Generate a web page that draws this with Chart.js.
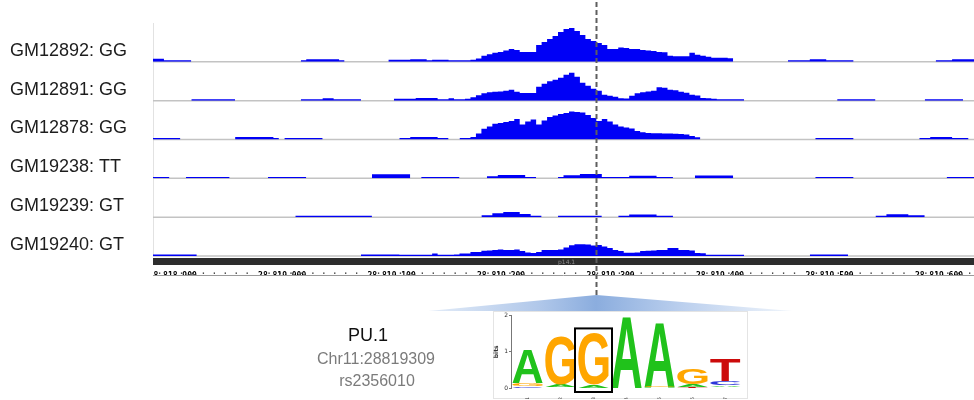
<!DOCTYPE html>
<html>
<head>
<meta charset="utf-8">
<script src="https://cdn.jsdelivr.net/npm/chart.js@4.4.1/dist/chart.umd.min.js"></script>
<style>
  html, body { margin: 0; padding: 0; background: #fff; }
  #wrap { position: relative; width: 974px; height: 400px; overflow: hidden; }
  #tracks { position: absolute; left: 0; top: 0; }
  #logo { position: absolute; left: 493px; top: 311px; }
  .motif { position: absolute; width: 200px; text-align: center; font-family: "Liberation Sans", Arial, sans-serif; white-space: nowrap; }
  #motifName { left: 268px; top: 325px; font-size: 18px; line-height: 20px; color: #111; }
  #motifLocus { left: 276px; top: 350px; font-size: 16px; line-height: 18px; color: #7b7b7b; }
  #motifSnp { left: 277px; top: 372px; font-size: 16px; line-height: 18px; color: #7b7b7b; }
</style>
</head>
<body>
<div id="wrap">
  <canvas id="tracks" width="974" height="400"></canvas>
  <canvas id="logo" width="255" height="88"></canvas>
  <div class="motif" id="motifName"></div>
  <div class="motif" id="motifLocus"></div>
  <div class="motif" id="motifSnp"></div>
</div>
<script>
// ---- ChIP-seq coverage around the PU.1 site ----
const sampleNames = ['GM12892', 'GM12891', 'GM12878', 'GM19238', 'GM19239', 'GM19240'];
const genotypes   = ['GG', 'GG', 'GG', 'TT', 'GT', 'GT'];
const regionStart = 28818904;
const regionEnd   = 28819654;
const binSize     = 5;          // bp per coverage bin
const snpPosition = 28819309;
const chromosome  = 'Chr11';
const snpId       = 'rs2356010';
const motifName   = 'PU.1';
const cytoband    = 'p14.1';

const _ = null;                 // no reads in bin
const coverageGM12892 = [
  3,3,1.5,1.5,1.5,1.5,1.5,_,_,_,
  _,_,_,_,_,_,_,_,_,_,
  _,_,_,_,_,_,_,1.5,2.5,2.5,
  2.5,2.5,2.5,2.5,1.5,_,_,_,_,_,
  _,_,_,2,2,2,2,2.5,2.5,2.5,
  1.5,2,2,2,1.5,1.5,1.5,1.5,2,3.3,
  6,7.5,9,10,11.5,13,12,10,10,10,
  17,20,23,26,30,33,34,31,27,23,
  21,19,17,13,13,14.5,14,13,13,12,
  11.5,11,10,9.5,6,5.5,5.5,5.5,9,7,
  6,5,4,4,4,3.7,_,_,_,_,
  _,_,_,_,_,_,1.5,1.5,1.5,1.5,
  2.5,2.5,2.5,1.5,1.5,1.5,1.5,1.5,_,_,
  _,_,_,_,_,_,_,_,_,_,
  _,_,_,1.5,1.5,1.5,2.5,2.5,2.5,2.5
];
const coverageGM12891 = [
  _,_,_,_,_,_,_,1.5,1.5,1.5,
  1.5,1.5,1.5,1.5,1.5,_,_,_,_,_,
  _,_,_,_,_,_,_,1.5,1.5,1.5,
  1.5,2.5,2.5,1.5,1.5,1.5,1.5,1.5,_,_,
  _,_,_,_,2,2,2,2,2.7,2.7,
  2.7,2.7,1.5,1.5,2.5,1.5,1.5,2,3.5,5.5,
  7.5,8.5,9,9.3,10,11,9,7.7,7.7,7.7,
  14,17,19.5,21,23,26,28,24,18,15,
  12,10,6,5,4,2.4,2.3,5,7.5,8.5,
  9.3,10,13.5,13,11,10.5,9,8,6,5.3,
  2.7,2.5,2,1.3,1.3,1.3,1.3,1.3,_,_,
  _,_,_,_,_,_,_,_,_,_,
  _,_,_,_,_,1.5,1.5,1.5,1.5,1.5,
  1.5,1.5,_,_,_,_,_,_,_,_,
  _,1.5,1.5,1.5,1.5,1.5,1.5,1.5,_,_
];
const coverageGM12878 = [
  1.5,1.5,1.5,1.5,1.5,_,_,_,_,_,
  _,_,_,_,_,2.5,2.5,2.5,2.5,2.5,
  2.5,2.5,1.5,_,1.5,1.5,1.5,1.5,1.5,1.5,
  1.5,_,_,_,_,_,_,_,_,_,
  _,_,_,_,_,1.5,1.5,2.5,2.5,2.5,
  2.5,2.5,1.5,1.5,_,_,1.5,1.5,2.5,6,
  10.7,13,15.7,16.5,17.5,18.5,20.7,15,18,20,
  15,19,22.5,24,25.7,26.5,28,27.5,27,24.5,
  21.5,18.5,20.5,18,15,13,12,11,8.5,7.3,
  6.5,6.3,6.3,6,6,5.7,5.5,5,3.5,2.3,
  _,_,_,_,_,_,_,_,_,_,
  _,_,_,_,_,_,_,_,_,_,
  _,1.5,1.5,1.5,1.5,1.5,1.5,1.5,_,_,
  _,_,_,_,_,_,_,_,_,_,
  1.5,1.5,2.5,2.5,2.5,2.5,1.5,1.5,1.5,_
];
const coverageGM19238 = [
  1.3,1.3,1.3,_,_,_,1.3,1.3,1.3,1.3,
  1.3,1.3,1.3,1.3,_,_,_,_,_,_,
  _,1.3,1.3,1.3,1.3,1.3,1.3,1.3,_,_,
  _,_,_,_,_,_,_,_,_,_,
  4,4,4,4,4,4,4,_,_,1.3,
  1.3,1.3,1.3,1.3,1.3,1.3,_,_,_,_,
  _,2,2,3.3,3.3,3.3,3.3,3.3,1.3,1.3,
  _,_,_,_,1.3,3.2,3.2,3.2,4.3,4.3,
  4.3,4.3,1.3,1.3,1.3,1.3,1.3,2.6,2.6,2.6,
  2.6,2.6,1.3,1.3,1.3,_,_,_,_,2.8,
  2.8,2.8,2.8,2.8,2.8,2.8,_,_,_,_,
  _,_,_,_,_,_,_,_,_,_,
  _,1.3,1.3,1.3,1.3,1.3,1.3,1.3,_,_,
  _,_,_,_,_,_,_,_,_,_,
  _,_,_,_,_,1.3,1.3,1.3,1.3,1.3
];
const coverageGM19239 = [
  _,_,_,_,_,_,_,_,_,_,
  _,_,_,_,_,_,_,_,_,_,
  _,_,_,_,_,_,1.3,1.3,1.3,1.3,
  1.3,1.3,1.3,1.3,1.3,1.3,1.3,1.3,1.3,1.3,
  _,_,_,_,_,_,_,_,_,_,
  _,_,_,_,_,_,_,_,_,_,
  2,2,4,4,5.3,5.3,5.3,3.3,3.3,1.3,
  1.3,_,_,_,1.5,1.5,1.5,1.5,1.5,1.5,
  1.5,1.5,_,_,_,1.3,1.3,2.7,2.7,2.7,
  2.7,2.7,1.3,1.3,1.3,_,_,_,_,_,
  _,_,_,_,_,_,_,_,_,_,
  _,_,_,_,_,_,_,_,_,_,
  _,_,_,_,_,_,_,_,_,_,
  _,_,1.3,1.3,3,3,3,3,2,2,
  2,_,_,_,_,_,_,_,_,_
];
const coverageGM19240 = [
  1.5,1.5,1.5,1.5,1.5,1.5,1.5,1.5,_,_,
  _,_,_,_,_,_,_,_,_,_,
  _,_,_,_,_,_,_,_,_,_,
  _,_,_,_,_,_,_,_,1.5,1.5,
  1.5,1.5,1.5,1.5,1.5,1.3,1.3,1.3,1.3,1.3,
  1.3,2.5,1.3,1.3,1.3,1.5,2.5,2.5,4,4,
  5.3,5.5,6,6.5,6,6,6.5,5,3.5,3,
  4,6,6,6,6.5,8.5,10.7,11.7,11.7,11.5,
  10.5,11,9.5,8,6,5,3.2,3.2,3.5,5,
  5.3,5.5,6,6,8,8,6,6,5.5,3,
  2.8,1.3,1.3,1.3,1.3,1.3,1.3,1.3,_,_,
  _,_,_,_,_,_,_,_,_,_,
  1.5,1.5,1.5,1.5,1.5,1.5,1.5,_,_,_,
  _,_,_,_,_,_,_,_,_,_,
  _,_,_,_,_,_,_,_,_,_
];
const coverage = [coverageGM12892, coverageGM12891, coverageGM12878,
                  coverageGM19238, coverageGM19239, coverageGM19240];
const trackMax = 39;            // shared data range of every track

// ---- PU.1 motif information content (bits) per position ----
const logoPositions = ['1', '2', '3', '4', '5', '6', '7'];
const bitsA = [0.94, 0.07, 0.07, 1.97, 1.80, 0.08, 0.05];
const bitsC = [0.05, 0.00, 0.00, 0.00, 0.00, 0.00, 0.12];
const bitsG = [0.08, 1.34, 1.40, 0.00, 0.04, 0.45, 0.02];
const bitsT = [0.01, 0.02, 0.01, 0.00, 0.00, 0.03, 0.62];
const snpMotifIndex = 2;        // motif position hit by the variant

document.getElementById('motifName').textContent = motifName;
document.getElementById('motifLocus').textContent = chromosome + ':' + snpPosition;
document.getElementById('motifSnp').textContent = snpId;

// bins -> stepped points; every run of reads gets a closing point
function binPoints(values) {
  const pts = [];
  values.forEach((v, k) => {
    const x = regionStart + k * binSize;
    pts.push({ x, y: v });
    if (v !== null && (k === values.length - 1 || values[k + 1] === null)) {
      pts.push({ x: x + binSize, y: v });
    }
  });
  return pts;
}

const trackBlue = 'rgb(0,0,246)';
const yScales = {};
sampleNames.forEach((name, i) => {
  yScales['y' + i] = {
    type: 'linear', position: 'left', display: false,
    min: 0, max: trackMax,
    stack: 'tracks', stackWeight: 1, weight: sampleNames.length - i
  };
});

const browserDecor = {
  id: 'browserDecor',
  beforeDatasetsDraw(chart) {
    const ctx = chart.ctx, area = chart.chartArea;
    ctx.save();
    // left edge of the data panel
    ctx.strokeStyle = '#e2e2e2';
    ctx.lineWidth = 1;
    ctx.beginPath();
    ctx.moveTo(area.left + 0.5, area.top);
    ctx.lineTo(area.left + 0.5, area.bottom);
    ctx.stroke();
    // track baselines
    ctx.strokeStyle = '#c3c3c3';
    ctx.lineWidth = 1.5;
    sampleNames.forEach((n, i) => {
      const y = chart.scales['y' + i].getPixelForValue(0);
      ctx.beginPath();
      ctx.moveTo(area.left, y);
      ctx.lineTo(area.right, y);
      ctx.stroke();
    });
    ctx.restore();
  },
  afterDraw(chart) {
    const ctx = chart.ctx, area = chart.chartArea, xs = chart.scales.x;
    ctx.save();
    // ruler: hide what runs past the panel's left edge
    ctx.fillStyle = '#fff';
    ctx.fillRect(0, area.bottom + 1, area.left, 24);
    // cytoband strip
    const barTop = area.bottom + 2, barH = 7;
    ctx.fillStyle = '#2d2d2d';
    ctx.fillRect(area.left, barTop, area.right - area.left, barH);
    ctx.fillStyle = '#8c8c8c';
    ctx.font = '6px "DejaVu Sans"';
    ctx.textBaseline = 'middle';
    ctx.textAlign = 'left';
    ctx.fillText(cytoband, 558, barTop + barH / 2 + 0.5);
    // minor ticks every 10 bp
    ctx.fillStyle = '#222';
    for (let v = Math.ceil(regionStart / 10) * 10; v <= regionEnd; v += 10) {
      if (v % 100 === 0) continue;
      const px = xs.getPixelForValue(v);
      ctx.fillRect(px - 0.6, area.bottom + 16.5, 1.3, 1.3);
    }
    ctx.strokeStyle = '#9a9a9a';
    ctx.lineWidth = 1;
    ctx.beginPath();
    ctx.moveTo(area.left, area.bottom + 19.5);
    ctx.lineTo(area.right, area.bottom + 19.5);
    ctx.stroke();
    // sample labels
    ctx.fillStyle = '#1d1d1d';
    ctx.font = '18px "Liberation Sans", Arial, sans-serif';
    ctx.textAlign = 'left';
    ctx.textBaseline = 'middle';
    sampleNames.forEach((name, i) => {
      const y = chart.scales['y' + i].getPixelForValue(0);
      ctx.fillText(name + ': ' + genotypes[i], 10, y - 11);
    });
    // SNP marker
    const sx = Math.round(xs.getPixelForValue(snpPosition)) + 0.5;
    const apexY = 295;
    ctx.strokeStyle = '#5e5e5e';
    ctx.lineWidth = 2;
    ctx.setLineDash([5, 3]);
    ctx.beginPath();
    ctx.moveTo(sx, 2);
    ctx.lineTo(sx, apexY);
    ctx.stroke();
    ctx.setLineDash([]);
    // zoom-out wedge towards the motif
    const left = sx - 168, right = sx + 196, baseY = 311;
    const g = ctx.createLinearGradient(left, 0, right, 0);
    g.addColorStop(0, '#e3ecf8');
    g.addColorStop(0.3, '#b1c8ea');
    g.addColorStop(0.46, '#8badde');
    g.addColorStop(0.7, '#bcd0ee');
    g.addColorStop(1, '#f0f5fb');
    ctx.fillStyle = g;
    ctx.beginPath();
    ctx.moveTo(sx, apexY);
    ctx.lineTo(right, baseY);
    ctx.lineTo(left, baseY);
    ctx.closePath();
    ctx.fill();
    ctx.restore();
  }
};

new Chart(document.getElementById('tracks'), {
  type: 'line',
  data: {
    datasets: coverage.map((vals, i) => ({
      label: sampleNames[i],
      data: binPoints(vals),
      yAxisID: 'y' + i,
      stepped: true,
      fill: 'origin',
      backgroundColor: trackBlue,
      borderColor: trackBlue,
      borderWidth: 0,
      pointRadius: 0,
      spanGaps: false
    }))
  },
  options: {
    responsive: false,
    devicePixelRatio: 1,
    animation: false,
    layout: { padding: { left: 153, right: 0, top: 23, bottom: 124 } },
    plugins: { legend: { display: false }, tooltip: { enabled: false } },
    scales: Object.assign({
      x: {
        type: 'linear', position: 'bottom', bounds: 'data',
        min: regionStart, max: regionEnd,
        afterBuildTicks(scale) {
          const t = [];
          for (let v = Math.floor(regionStart / 100) * 100; v <= regionEnd; v += 100) t.push({ value: v });
          scale.ticks = t;
        },
        afterFit(scale) { scale.height = 20; },
        grid: { display: false },
        border: { display: false },
        ticks: {
          autoSkip: false, maxRotation: 0, minRotation: 0, align: 'start', padding: 8,
          color: '#000',
          font: { family: '"DejaVu Sans Mono", monospace', size: 8, weight: 'bold', lineHeight: 1 },
          callback: (v) => Number(v).toLocaleString('en-US')
        }
      }
    }, yScales)
  },
  plugins: [browserDecor]
});

// ---- sequence logo ----
const letters = ['A', 'C', 'G', 'T'];
const bitsByLetter = { A: bitsA, C: bitsC, G: bitsG, T: bitsT };
const letterColors = { A: '#20c21b', C: '#2b36d8', G: '#ffa600', T: '#cc0b0b' };
const letterRanges = { A: [], C: [], G: [], T: [] };
logoPositions.forEach((p, j) => {
  const order = letters.slice().sort((a, b) => bitsByLetter[a][j] - bitsByLetter[b][j]);
  let base = 0;
  order.forEach(l => {
    const h = bitsByLetter[l][j];
    letterRanges[l].push([base, base + h]);
    base += h;
  });
});

const logoGlyphs = {
  id: 'logoGlyphs',
  beforeDraw(chart) {
    const ctx = chart.ctx;
    ctx.save();
    ctx.fillStyle = '#fff';
    ctx.fillRect(0, 0, chart.width, chart.height);
    ctx.strokeStyle = '#e4e4e4';
    ctx.lineWidth = 1;
    ctx.strokeRect(0.5, 0.5, chart.width - 1, chart.height - 1);
    ctx.restore();
  },
  afterDatasetsDraw(chart) {
    const ctx = chart.ctx;
    chart.data.datasets.forEach((ds, di) => {
      const letter = ds.label;
      chart.getDatasetMeta(di).data.forEach(el => {
        const { x, y, base, width } = el.getProps(['x', 'y', 'base', 'width'], true);
        const top = Math.min(y, base), bottom = Math.max(y, base), h = bottom - top;
        if (h < 0.4) return;
        ctx.save();
        ctx.font = 'bold 100px "Liberation Sans", Arial, sans-serif';
        ctx.textAlign = 'left';
        ctx.textBaseline = 'alphabetic';
        const m = ctx.measureText(letter);
        const gw = m.actualBoundingBoxLeft + m.actualBoundingBoxRight;
        const gh = m.actualBoundingBoxAscent + m.actualBoundingBoxDescent;
        ctx.translate(x - width / 2, bottom);
        ctx.scale(width / gw, h / gh);
        ctx.fillStyle = letterColors[letter];
        ctx.fillText(letter, m.actualBoundingBoxLeft, -m.actualBoundingBoxDescent);
        ctx.restore();
      });
    });
    // frame around the variant base
    const el = chart.getDatasetMeta(0).data[snpMotifIndex];
    const ys = chart.scales.y;
    const total = letters.reduce((s, l) => s + bitsByLetter[l][snpMotifIndex], 0);
    const bx = el.x, half = 18.5;
    const top = ys.getPixelForValue(total) - 6;
    const bottom = ys.getPixelForValue(0) + 4;
    ctx.save();
    ctx.strokeStyle = '#000';
    ctx.lineWidth = 2;
    ctx.strokeRect(bx - half, top, half * 2, bottom - top);
    ctx.restore();
  }
};

new Chart(document.getElementById('logo'), {
  type: 'bar',
  data: {
    labels: logoPositions,
    datasets: letters.map(l => ({
      label: l,
      data: letterRanges[l],
      backgroundColor: 'rgba(0,0,0,0)',
      borderWidth: 0,
      grouped: false,
      barPercentage: 0.92,
      categoryPercentage: 1
    }))
  },
  options: {
    responsive: false,
    devicePixelRatio: 1,
    animation: false,
    layout: { padding: { left: 0, right: 6, top: 0, bottom: 0 } },
    plugins: { legend: { display: false }, tooltip: { enabled: false } },
    scales: {
      x: {
        grid: { display: false },
        border: { display: false },
        ticks: { font: { size: 5, family: '"DejaVu Sans"' }, color: '#333', maxRotation: 90, minRotation: 90, padding: 1 },
        afterFit(scale) { scale.height = 11; }
      },
      y: {
        min: 0, max: 2,
        ticks: { stepSize: 1, font: { size: 6, family: '"DejaVu Sans"' }, color: '#333', padding: 1 },
        grid: { display: true, drawOnChartArea: false, tickLength: 2, color: '#777' },
        border: { display: true, color: '#777' },
        title: { display: true, text: 'bits', font: { size: 6, weight: 'bold', family: '"DejaVu Sans"' }, padding: 0, color: '#333' },
        afterFit(scale) { scale.width = 18; }
      }
    }
  },
  plugins: [logoGlyphs]
});
</script>
</body>
</html>
